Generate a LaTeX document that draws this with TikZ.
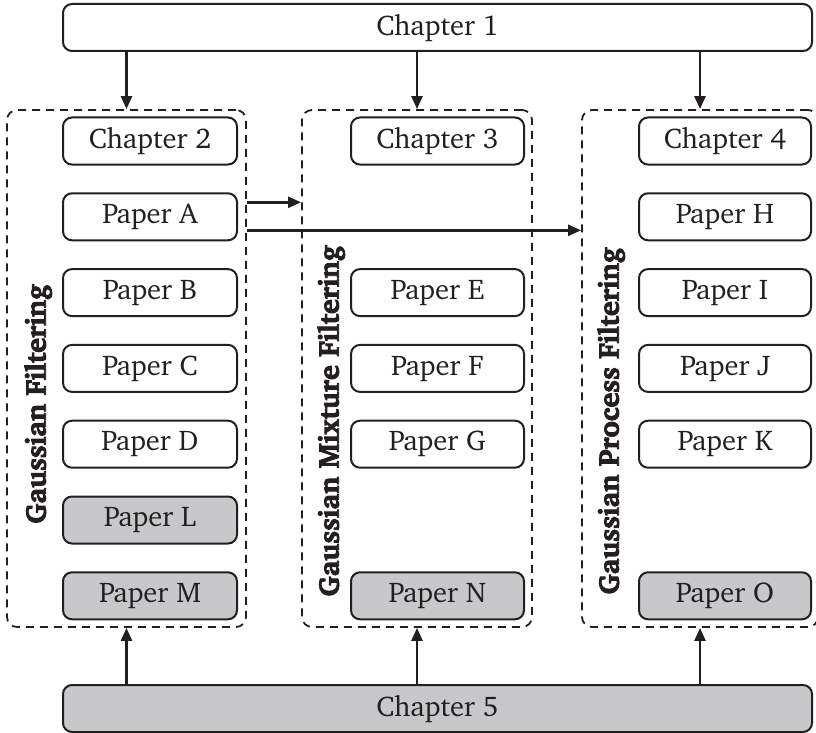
\documentclass[tikz,border=0pt]{standalone}
\usepackage[T1]{fontenc}
\usepackage{charter}
\usetikzlibrary{arrows.meta}
\definecolor{graybox}{RGB}{200,200,202}
\definecolor{ink}{RGB}{35,31,32}
\newcommand{\heavytext}[1]{\special{pdf:literal direct 2 Tr 0.9 w}#1\special{pdf:literal direct 0 Tr}}
\begin{document}
\begin{tikzpicture}[x=1pt,y=-1pt,
 box/.style={draw=ink, line width=2pt, rounded corners=9pt, minimum width=174pt, minimum height=47pt, inner sep=0pt, font=\fontsize{28.5}{32}\selectfont, text=ink},
 gbox/.style={box, fill=graybox},
 grp/.style={draw=ink, line width=1.8pt, dash pattern=on 8pt off 6pt, rounded corners=10pt, inner sep=0pt},
 arr/.style={draw=ink, line width=2.4pt, -{Triangle[length=13pt,width=11pt]}},
 lab/.style={rotate=90, font=\fontsize{28.5}{32}\selectfont\bfseries, text=ink}
]
\useasboundingbox (0,0) rectangle (816,733);

% top and bottom chapters
\node[box, minimum width=749pt] (ch1) at (437.5,27.5) {Chapter 1};
\node[gbox, minimum width=749pt] (ch5) at (437.5,708.5) {Chapter 5};

% group frames
\node[grp, minimum width=239pt, minimum height=517pt] (g1) at (126.5,368.5) {};
\node[grp, minimum width=230pt, minimum height=517pt] (g2) at (417,368.5) {};
\node[grp, minimum width=236pt, minimum height=517pt] (g3) at (700,368.5) {};

% left column
\node[box] (ch2) at (150,141) {Chapter 2};
\node[box] (pa) at (150,216.8) {Paper A};
\node[box] (pb) at (150,292.6) {Paper B};
\node[box] (pc) at (150,368.4) {Paper C};
\node[box] (pd) at (150,444.2) {Paper D};
\node[gbox] (pl) at (150,520) {Paper L};
\node[gbox] (pm) at (150,595.8) {Paper M};

% middle column
\node[box, minimum width=173pt] (ch3) at (437.5,141) {Chapter 3};
\node[box, minimum width=173pt] (pe) at (437.5,292.6) {Paper E};
\node[box, minimum width=173pt] (pf) at (437.5,368.4) {Paper F};
\node[box, minimum width=173pt] (pg) at (437.5,444.2) {Paper G};
\node[gbox, minimum width=173pt] (pn) at (437.5,595.8) {Paper N};

% right column
\node[box, minimum width=172pt] (ch4) at (725,141) {Chapter 4};
\node[box, minimum width=172pt] (ph) at (725,216.8) {Paper H};
\node[box, minimum width=172pt] (pi) at (725,292.6) {Paper I};
\node[box, minimum width=172pt] (pj) at (725,368.4) {Paper J};
\node[box, minimum width=172pt] (pk) at (725,444.2) {Paper K};
\node[gbox, minimum width=172pt] (po) at (725,595.8) {Paper O};

% vertical labels
\node[lab] (l1) at (38,404) {\heavytext{Gaussian Filtering}};
\node[lab] (l2) at (331,421) {\heavytext{Gaussian Mixture Filtering}};
\node[lab] (l3) at (611,421) {\heavytext{Gaussian Process Filtering}};

% arrows from chapter 1
\draw[arr] (ch1.south -| g1.north) -- (g1.north);
\draw[arr] (ch1.south -| g2.north) -- (g2.north);
\draw[arr] (ch1.south -| g3.north) -- (g3.north);

% arrows from chapter 5
\draw[arr] (ch5.north -| g1.south) -- (g1.south);
\draw[arr] (ch5.north -| g2.south) -- (g2.south);
\draw[arr] (ch5.north -| g3.south) -- (g3.south);

% arrows from paper A
\coordinate (a1) at ([yshift=14.5pt]pa.east);
\coordinate (a2) at ([yshift=-13.5pt]pa.east);
\draw[arr] (a1 -| g1.east) -- (a1 -| g2.west);
\draw[arr] (a2 -| g1.east) -- (a2 -| g3.west);
\end{tikzpicture}
\end{document}
